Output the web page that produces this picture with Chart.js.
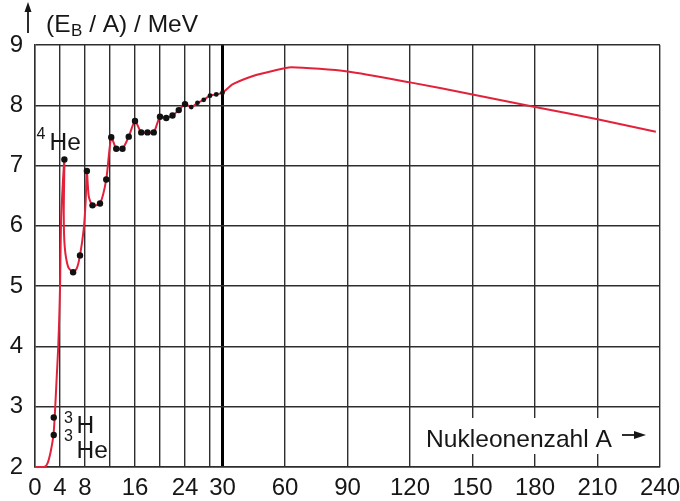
<!DOCTYPE html>
<html>
<head>
<meta charset="utf-8">
<script src="https://cdn.jsdelivr.net/npm/chart.js@4/dist/chart.umd.min.js"></script>
<style>
  html, body { margin: 0; padding: 0; background: #fff; overflow: hidden; }
  canvas { display: block; }
</style>
</head>
<body>
<canvas id="chart" width="680" height="501"></canvas>
<script>
// Measured nuclides: mass number A and binding energy per nucleon (MeV)
const nuclideA = [3, 3, 4.7, 6.1, 7.2, 8.3, 9.2, 10.4, 11.4, 12.2, 13, 14, 15, 16, 17, 18, 19, 20, 21, 22, 23, 24, 25, 26, 27, 28, 29, 30];
const nuclideEB = [2.82, 2.53, 7.1, 5.23, 5.51, 6.91, 6.34, 6.37, 6.77, 7.47, 7.28, 7.28, 7.48, 7.74, 7.55, 7.55, 7.55, 7.81, 7.79, 7.83, 7.92, 8.02, 7.97, 8.04, 8.09, 8.16, 8.18, 8.21];

// Trend curve through the nuclides and on to the heavy elements
const curveA = [0, 1.5, 2.0, 2.5, 2.95, 3.15, 3.45, 3.72, 3.9, 4.02, 4.16, 4.45, 4.7, 4.6, 4.75, 5.3, 6.1, 6.7, 7.2, 7.8, 8.1, 8.3, 8.6, 9.2, 10.4, 11.4, 12.2, 13, 14, 15, 16, 17, 18, 19, 20, 21, 22, 23, 24, 25, 26, 27, 28, 29, 30, 35, 45, 54, 63, 90, 120, 150, 180, 210, 238];
const curveEB = [2.0, 2.0, 2.06, 2.25, 2.53, 2.82, 3.44, 4.0, 4.55, 5.05, 6.05, 6.7, 7.1, 6.2, 5.66, 5.32, 5.23, 5.3, 5.51, 5.95, 6.4, 6.91, 6.49, 6.34, 6.37, 6.77, 7.47, 7.28, 7.28, 7.48, 7.74, 7.55, 7.55, 7.55, 7.81, 7.79, 7.83, 7.92, 8.02, 7.97, 8.04, 8.09, 8.16, 8.18, 8.21, 8.35, 8.49, 8.57, 8.63, 8.56, 8.38, 8.18, 7.97, 7.77, 7.56];

// Axis ticks
const xTicks = [0, 4, 8, 12, 16, 20, 24, 28, 30, 60, 90, 120, 150, 180, 210, 240];
const xTickLabels = ['0', '4', '8', '', '16', '', '24', '', '30', '60', '90', '120', '150', '180', '210', '240'];
const yTicks = [2, 3, 4, 5, 6, 7, 8, 9];

const FONT = '"Liberation Sans", Arial, Helvetica, sans-serif';
const RED = '#e2223a';
const INK = '#161616';
const GRID = '#2e2e2e';

// x axis stretched below A = 30 and compressed by 3 above it
const BREAK_AT = 30;
const COMPRESS = 3;
const toVirtual = a => a <= BREAK_AT ? a : BREAK_AT + (a - BREAK_AT) / COMPRESS;
const fromVirtual = v => v <= BREAK_AT ? v : BREAK_AT + (v - BREAK_AT) * COMPRESS;

class BrokenLinearScale extends Chart.LinearScale {
  getPixelForValue(value) {
    const v0 = toVirtual(this.min), v1 = toVirtual(this.max);
    return this.getPixelForDecimal((toVirtual(value) - v0) / (v1 - v0));
  }
  getValueForPixel(pixel) {
    const v0 = toVirtual(this.min), v1 = toVirtual(this.max);
    return fromVirtual(v0 + this.getDecimalForPixel(pixel) * (v1 - v0));
  }
}
BrokenLinearScale.id = 'brokenLinear';
BrokenLinearScale.defaults = Chart.LinearScale.defaults;
Chart.register(BrokenLinearScale);

const toPoints = (xs, ys) => xs.map((x, i) => ({ x, y: ys[i] }));

// Axis title, nuclide names and the x-axis caption
const labelsPlugin = {
  id: 'labels',
  beforeDatasetsDraw(chart) {
    const ctx = chart.ctx;
    const area = chart.chartArea;
    ctx.save();
    ctx.fillStyle = '#fff';
    ctx.fillRect(421, 418, area.right - 3 - 421, 36);
    ctx.restore();
  },
  afterDraw(chart) {
    const ctx = chart.ctx;
    ctx.save();
    ctx.fillStyle = INK;
    ctx.strokeStyle = INK;
    ctx.textBaseline = 'alphabetic';
    ctx.textAlign = 'left';

    const put = (str, x, y, size) => {
      ctx.font = size + 'px ' + FONT;
      ctx.fillText(str, x, y);
      return x + ctx.measureText(str).width;
    };

    // y-axis title with arrow
    ctx.lineWidth = 1.8;
    ctx.beginPath();
    ctx.moveTo(28, 33);
    ctx.lineTo(28, 10);
    ctx.stroke();
    ctx.beginPath();
    ctx.moveTo(28, 2);
    ctx.lineTo(24.5, 12);
    ctx.lineTo(31.5, 12);
    ctx.closePath();
    ctx.fill();

    let x = put('(E', 46, 32, 24.5);
    x = put('B', x + 0.5, 35.5, 17);
    put(' / A) / MeV', x, 32, 24.5);

    // nuclide names
    put('4', 36.5, 139, 16);
    put('He', 49.5, 150, 24.5);
    put('3', 64, 423, 16);
    put('H', 76.5, 433, 24.5);
    put('3', 64, 441, 16);
    put('He', 76.5, 458, 24.5);

    // x-axis caption with arrow
    put('Nukleonenzahl A', 426, 446.5, 24.6);
    ctx.lineWidth = 1.8;
    ctx.beginPath();
    ctx.moveTo(622, 435);
    ctx.lineTo(636, 435);
    ctx.stroke();
    ctx.beginPath();
    ctx.moveTo(646, 435);
    ctx.lineTo(634, 431);
    ctx.lineTo(634, 439);
    ctx.closePath();
    ctx.fill();
    ctx.restore();
  }
};

new Chart(document.getElementById('chart'), {
  type: 'line',
  data: {
    datasets: [
      {
        data: toPoints(nuclideA, nuclideEB),
        showLine: false,
        pointRadius: ctx => (ctx.raw && ctx.raw.x > 24 ? 2.4 : 3.2),
        pointBackgroundColor: '#111',
        pointBorderWidth: 0,
        order: 0,
        clip: 6
      },
      {
        data: toPoints(curveA, curveEB),
        borderColor: RED,
        borderWidth: 2,
        pointRadius: 0,
        tension: 0.22,
        fill: false,
        order: 1,
        clip: 4
      }
    ]
  },
  options: {
    responsive: false,
    animation: false,
    events: [],
    layout: { padding: { left: 0, right: 20, top: 45, bottom: 0 } },
    plugins: { legend: { display: false }, tooltip: { enabled: false } },
    scales: {
      x: {
        type: 'brokenLinear',
        min: 0,
        max: 240,
        afterBuildTicks: scale => { scale.ticks = xTicks.map(v => ({ value: v })); },
        afterFit: scale => {
          scale.height = 34;
          scale.paddingLeft = 0;
          scale.paddingRight = 0;
        },
        ticks: {
          autoSkip: false,
          maxRotation: 0,
          padding: 7,
          color: INK,
          font: { family: FONT, size: 24, lineHeight: 1.2 },
          callback: (value) => {
            const i = xTicks.indexOf(value);
            return i >= 0 ? xTickLabels[i] : '';
          }
        },
        grid: {
          drawTicks: false,
          color: ctx => (ctx.tick && ctx.tick.value === BREAK_AT ? '#000' : GRID),
          lineWidth: ctx => (ctx.tick && ctx.tick.value === BREAK_AT ? 3 : 1.4)
        },
        border: { display: true, color: GRID, width: 1.4 }
      },
      y: {
        type: 'linear',
        min: 2,
        max: 9,
        afterBuildTicks: scale => { scale.ticks = yTicks.map(v => ({ value: v })); },
        afterFit: scale => {
          scale.width = 35;
          scale.paddingTop = 0;
          scale.paddingBottom = 0;
        },
        ticks: {
          padding: 12,
          color: INK,
          font: { family: FONT, size: 24, lineHeight: 1.2 }
        },
        grid: { drawTicks: false, color: GRID, lineWidth: 1.4 },
        border: { display: true, color: GRID, width: 1.4 }
      }
    }
  },
  plugins: [labelsPlugin]
});
</script>
</body>
</html>
